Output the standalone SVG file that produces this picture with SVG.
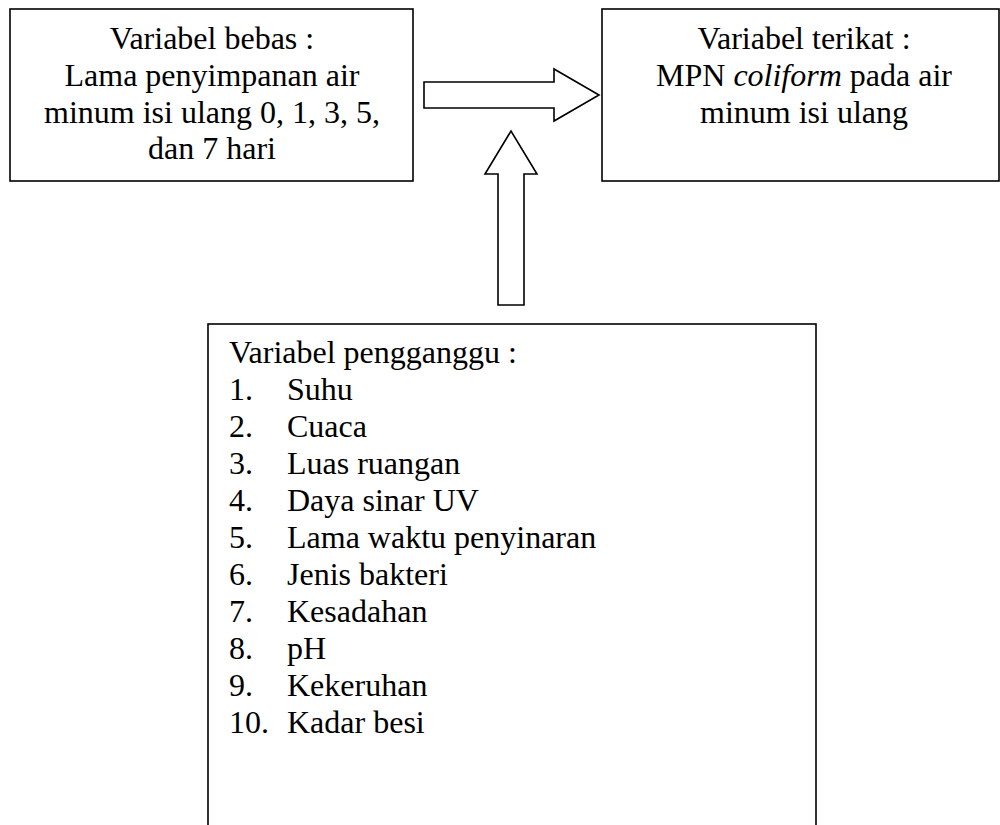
<svg xmlns="http://www.w3.org/2000/svg" width="1000" height="825" viewBox="0 0 1000 825">
<style>
.box{fill:#fff;stroke:#000;stroke-width:1.6}
.arr{fill:#fff;stroke:#000;stroke-width:1.6;stroke-linejoin:miter}
text{font-family:"Liberation Serif","Times New Roman",serif;font-size:32px;fill:#000}
.c{text-anchor:middle}
</style>
<rect width="1000" height="825" fill="#fff"/>
<g id="bebas">
<rect class="box" x="10" y="9" width="403" height="172"/>
<text class="c" x="212" y="49">Variabel bebas :</text>
<text class="c" x="212" y="86">Lama penyimpanan air</text>
<text class="c" x="212" y="123">minum isi ulang 0, 1, 3, 5,</text>
<text class="c" x="212" y="159">dan 7 hari</text>
</g>
<g id="terikat">
<rect class="box" x="602" y="9" width="397" height="172"/>
<text class="c" x="804" y="49">Variabel terikat :</text>
<text class="c" x="804" y="86">MPN <tspan font-style="italic">coliform</tspan> pada air</text>
<text class="c" x="804" y="123">minum isi ulang</text>
</g>
<g id="pengganggu">
<rect class="box" x="208" y="324" width="608" height="520"/>
<text x="229" y="363">Variabel pengganggu :</text>
<text x="229" y="400">1.</text><text x="287" y="400">Suhu</text>
<text x="229" y="437">2.</text><text x="287" y="437">Cuaca</text>
<text x="229" y="474">3.</text><text x="287" y="474">Luas ruangan</text>
<text x="229" y="511">4.</text><text x="287" y="511">Daya sinar UV</text>
<text x="229" y="548">5.</text><text x="287" y="548">Lama waktu penyinaran</text>
<text x="229" y="585">6.</text><text x="287" y="585">Jenis bakteri</text>
<text x="229" y="622">7.</text><text x="287" y="622">Kesadahan</text>
<text x="229" y="659">8.</text><text x="287" y="659">pH</text>
<text x="229" y="696">9.</text><text x="287" y="696">Kekeruhan</text>
<text x="229" y="733">10.</text><text x="287" y="733">Kadar besi</text>
</g>
<g id="connectors">
<polygon class="arr" points="424,82 554,82 554,69 599,95 554,121 554,108 424,108"/>
<polygon class="arr" points="498,305 498,174 485,174 511,131 537,174 524,174 524,305"/>
</g>
</svg>
